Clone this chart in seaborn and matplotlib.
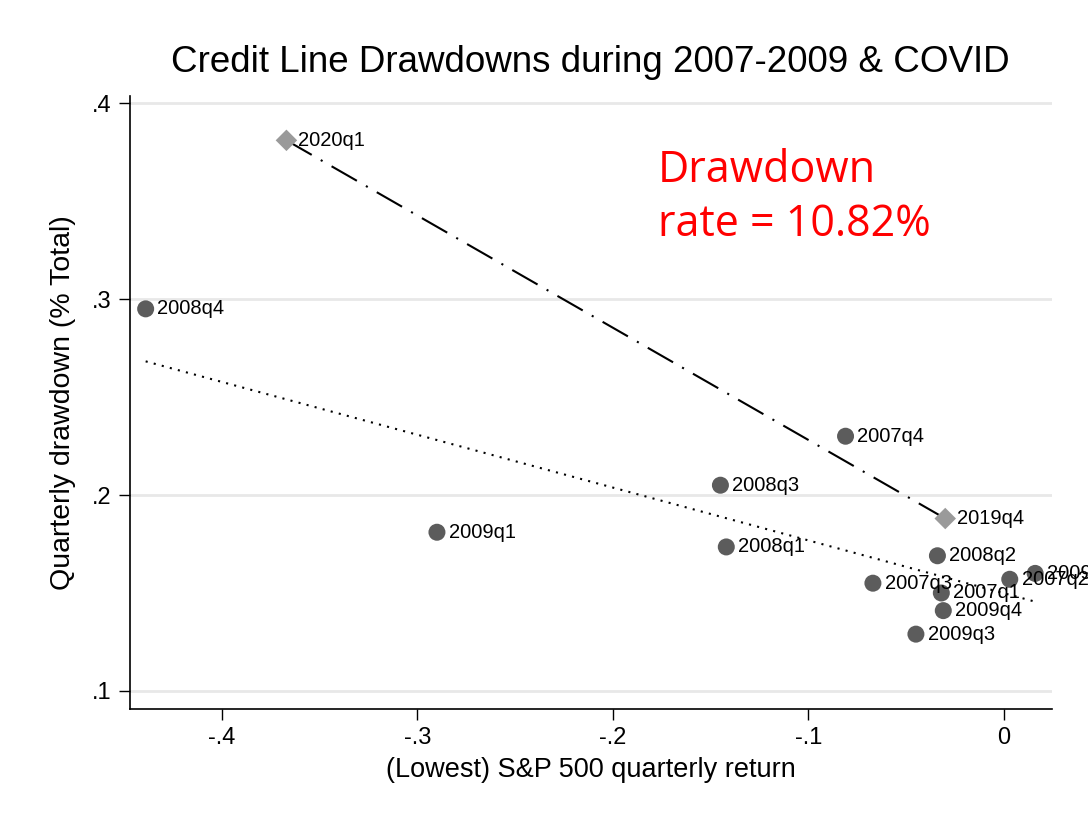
import pandas as pd
import numpy as np
import matplotlib.pyplot as plt
import seaborn as sns

# data: 2007-2009 quarters
gfc_qtr = ["2008q4", "2007q4", "2008q3", "2009q1", "2008q1", "2008q2",
           "2007q3", "2007q1", "2007q2", "2009q2", "2009q4", "2009q3"]
gfc_ret = [-0.439, -0.081, -0.145, -0.290, -0.142, -0.034,
           -0.067, -0.032, 0.003, 0.016, -0.031, -0.045]
gfc_draw = [0.295, 0.230, 0.205, 0.181, 0.1735, 0.169,
            0.155, 0.150, 0.157, 0.160, 0.141, 0.129]

# data: COVID quarters
cov_qtr = ["2020q1", "2019q4"]
cov_ret = [-0.367, -0.030]
cov_draw = [0.381, 0.188]

gfc = pd.DataFrame({"q": gfc_qtr, "x": gfc_ret, "y": gfc_draw})
cov = pd.DataFrame({"q": cov_qtr, "x": cov_ret, "y": cov_draw})

sns.set_style("white")
plt.rcParams["font.family"] = ["Liberation Sans", "DejaVu Sans"]
plt.rcParams["text.color"] = "black"
plt.rcParams["axes.labelcolor"] = "black"
plt.rcParams["xtick.color"] = "black"
plt.rcParams["ytick.color"] = "black"

fig = plt.figure(figsize=(10.88, 8.14), dpi=100)
ax = fig.add_axes([0.1195, 0.129, 0.8474, 0.753])

# fitted lines
sns.regplot(data=gfc, x="x", y="y", scatter=False, ci=None, truncate=True,
            color="black", line_kws={"linestyle": (0, (1, 3)), "linewidth": 1.5}, ax=ax)
sns.regplot(data=cov, x="x", y="y", scatter=False, ci=None, truncate=True,
            color="black", line_kws={"linestyle": (0, (14, 5, 1, 5)), "linewidth": 1.5}, ax=ax)

# points
sns.scatterplot(data=gfc, x="x", y="y", color="#5c5c5c", s=150, edgecolor="none", ax=ax, zorder=3)
sns.scatterplot(data=cov, x="x", y="y", color="#9a9a9a", marker="D", s=120, edgecolor="none", ax=ax, zorder=3)

for d in (gfc, cov):
    for q, x, y in zip(d["q"], d["x"], d["y"]):
        ax.annotate(q, (x, y), xytext=(8.5, 0), textcoords="offset points",
                    va="center", ha="left", fontsize=14.5, color="black",
                    annotation_clip=False, zorder=4)

ax.text(-0.177, 0.377, "Drawdown\nrate = 10.82%", color="#ff0000", fontsize=31,
        family=["Open Sans", "DejaVu Sans"], va="top", ha="left", linespacing=1.3)

ax.set_xlim(-0.447, 0.0246)
ax.set_ylim(0.0908, 0.4036)
ax.set_xticks([-0.4, -0.3, -0.2, -0.1, 0])
ax.set_xticklabels(["-.4", "-.3", "-.2", "-.1", "0"])
ax.set_yticks([0.1, 0.2, 0.3, 0.4])
ax.set_yticklabels([".1", ".2", ".3", ".4"])
ax.tick_params(axis="both", direction="out", length=8, width=1, labelsize=17,
               left=True, bottom=True, color="black", pad=5)
ax.grid(axis="y", color="#e8e8e8", linewidth=2)
ax.set_axisbelow(True)
sns.despine(ax=ax)
for s in ("left", "bottom"):
    ax.spines[s].set_color("black")
    ax.spines[s].set_linewidth(1.2)

ax.set_xlabel("(Lowest) S&P 500 quarterly return", fontsize=19.5, labelpad=6)
ax.set_ylabel("Quarterly drawdown (% Total)", fontsize=20.5, labelpad=12)
fig.suptitle("Credit Line Drawdowns during 2007-2009 & COVID", fontsize=26.5, x=0.543, y=0.945)

fig.savefig("out.png", dpi=100)
